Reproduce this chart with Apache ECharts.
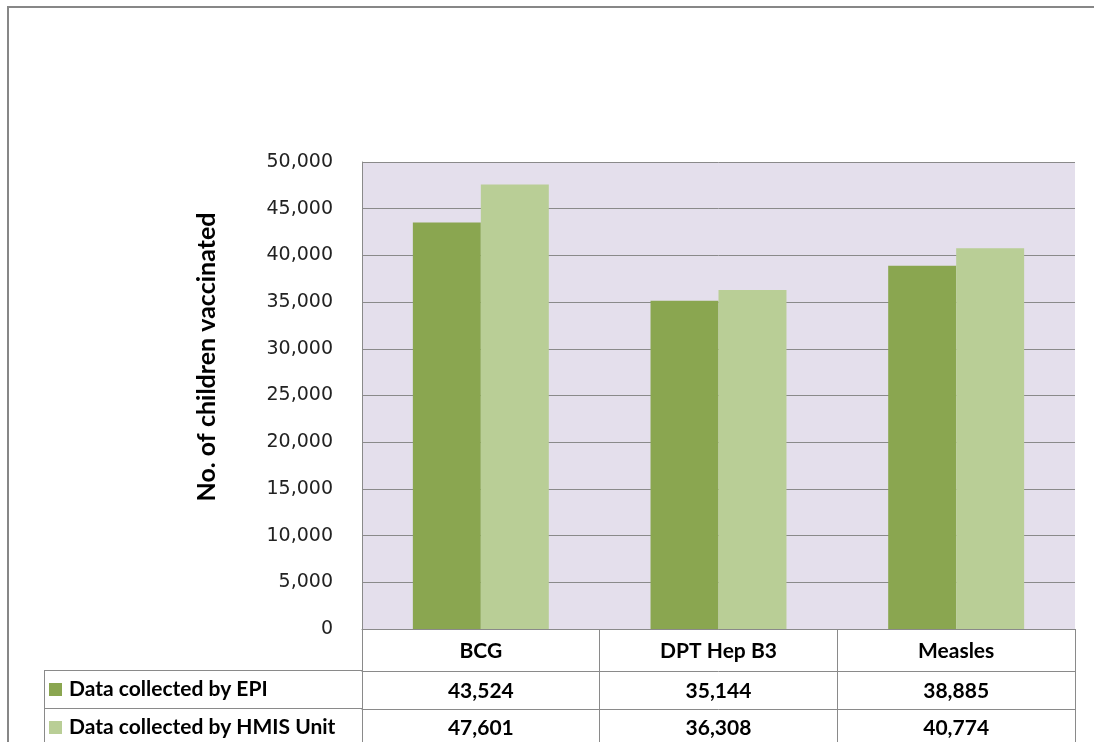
<!DOCTYPE html>
<html>
<head>
<meta charset="utf-8">
<script src="https://cdn.jsdelivr.net/npm/echarts@6/dist/echarts.min.js"></script>
<style>
html,body{margin:0;padding:0;background:#fff;}
#c{width:1094px;height:742px;}
</style>
</head>
<body>
<div id="c"></div>
<script>
var categories = ['BCG', 'DPT Hep B3', 'Measles'];
var seriesNames = ['Data collected by EPI', 'Data collected by HMIS Unit'];
var epiValues = [43524, 35144, 38885];
var hmisValues = [47601, 36308, 40774];
var yTicks = [0, 5000, 10000, 15000, 20000, 25000, 30000, 35000, 40000, 45000, 50000];

function fmt(v) { return v.toString().replace(/\B(?=(\d{3})+(?!\d))/g, ','); }

var chart = echarts.init(document.getElementById('c'), null, {renderer: 'canvas'});
var gridLine = '#8a8a8a';
var tableFont = {fontFamily: 'Lato', fontWeight: 'bold', fontSize: 21, color: '#000'};

function tableAxis(data, offset, tickLen, margin) {
  return {
    type: 'category', data: data, position: 'bottom', offset: offset,
    axisLine: {show: true, lineStyle: {color: gridLine, width: 1}},
    axisTick: {show: true, length: tickLen, interval: 0, lineStyle: {color: gridLine, width: 1}},
    axisLabel: Object.assign({interval: 0, margin: margin}, tableFont),
    splitLine: {show: false}
  };
}

function legendRow(name, top) {
  return {
    orient: 'vertical', left: 49, top: top, padding: 0, itemWidth: 13, itemHeight: 13,
    icon: 'rect', selectedMode: false,
    textStyle: {fontFamily: 'Lato', fontWeight: 'bold', fontSize: 21, color: '#000', padding: [0, 0, 0, 2]},
    data: [name]
  };
}

chart.setOption({
  animation: false,
  backgroundColor: '#fff',
  grid: {left: 362, right: 19, top: 162, bottom: 113, show: true, backgroundColor: '#e4dfec', borderWidth: 0},
  legend: [legendRow(seriesNames[0], 679), legendRow(seriesNames[1], 717)],
  xAxis: [
    tableAxis(categories, 0, 42, 12),
    tableAxis(epiValues.map(fmt), 42, 38, 10),
    tableAxis(hmisValues.map(fmt), 80, 40, 9)
  ],
  yAxis: {
    type: 'value', min: yTicks[0], max: yTicks[yTicks.length - 1], interval: yTicks[1] - yTicks[0],
    axisLine: {show: true, lineStyle: {color: gridLine, width: 1}},
    axisTick: {show: false},
    axisLabel: {margin: 29, fontFamily: 'DejaVu Sans', fontSize: 19, color: '#222', formatter: fmt},
    splitLine: {show: true, lineStyle: {color: gridLine, width: 1}}
  },
  series: [
    {name: seriesNames[0], type: 'bar', xAxisIndex: 0, data: epiValues, barGap: '0%', barCategoryGap: '42.8%',
     itemStyle: {color: '#8aa650'}},
    {name: seriesNames[1], type: 'bar', xAxisIndex: 0, data: hmisValues, barGap: '0%', barCategoryGap: '42.8%',
     itemStyle: {color: '#b9ce96'}}
  ],
  graphic: [
    {type: 'polyline', shape: {points: [[8, 760], [8, 7], [1120, 7]]}, style: {fill: null, stroke: '#878787', lineWidth: 2}, silent: true},
    {type: 'line', shape: {x1: 44, y1: 670.5, x2: 362, y2: 670.5}, style: {stroke: gridLine, lineWidth: 1}},
    {type: 'line', shape: {x1: 44, y1: 708.5, x2: 362, y2: 708.5}, style: {stroke: gridLine, lineWidth: 1}},
    {type: 'line', shape: {x1: 44.5, y1: 670, x2: 44.5, y2: 742}, style: {stroke: gridLine, lineWidth: 1}},
    {type: 'text', x: 207, y: 357, rotation: Math.PI / 2,
     style: {text: 'No. of children vaccinated', fontFamily: 'Lato', fontWeight: 'bold', fontSize: 25, fill: '#000',
             textAlign: 'center', textVerticalAlign: 'middle'}}
  ]
});
</script>
</body>
</html>
